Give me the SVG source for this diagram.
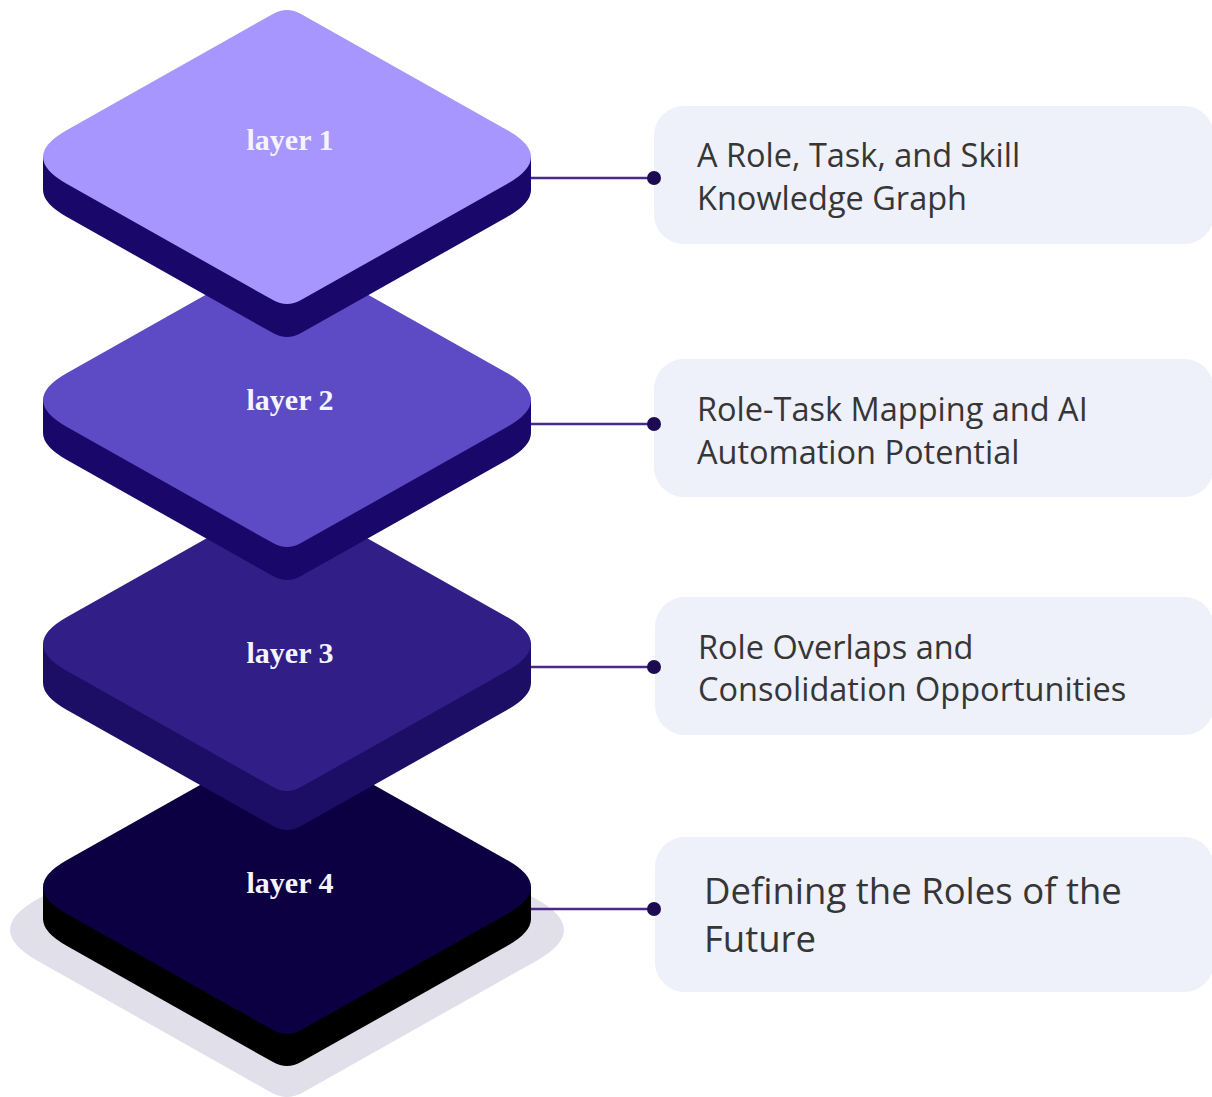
<svg xmlns="http://www.w3.org/2000/svg" xmlns:xlink="http://www.w3.org/1999/xlink" width="1212" height="1097" viewBox="0 0 1212 1097">
  <style>
    .label { font-family: "Liberation Serif", "DejaVu Serif", serif; font-weight: bold; font-size: 30px; fill: #f6f4ff; text-anchor: middle; }
    .card { fill: #eef0fa; }
    .card-text { font-family: "Open Sans", "Noto Sans", sans-serif; font-size: 32.5px; fill: #363636; }
    .card-text.big { font-size: 36.5px; }
    .link { stroke: #4a2a88; stroke-width: 2.5; fill: none; }
    .dot { fill: #1d0b52; }
  </style>
  <defs>
    <!-- rounded isometric slab top, centred on the origin -->
    <path id="face" d="M -220,-27 Q -268,0 -220,27 L -14,143.1 Q 0,151 14,143.1 L 220,27 Q 268,0 220,-27 L 14,-143.1 Q 0,-151 -14,-143.1 Z"/>
  </defs>

  <!-- ground shadow under the stack -->
  <use xlink:href="#face" href="#face" transform="translate(287,930) scale(1.135)" fill="#e1e0ea"/>

  <!-- description cards -->
  <g id="card1">
    <rect class="card" x="654" y="106" width="560" height="138" rx="30"/>
    <text class="card-text" x="697" y="167">A Role, Task, and Skill</text>
    <text class="card-text" x="697" y="210">Knowledge Graph</text>
  </g>
  <g id="card2">
    <rect class="card" x="654" y="359" width="560" height="138" rx="30"/>
    <text class="card-text" x="697" y="421">Role-Task Mapping and AI</text>
    <text class="card-text" x="697" y="464">Automation Potential</text>
  </g>
  <g id="card3">
    <rect class="card" x="655" y="597" width="559" height="138" rx="30"/>
    <text class="card-text" x="698" y="659">Role Overlaps and</text>
    <text class="card-text" x="698" y="701">Consolidation Opportunities</text>
  </g>
  <g id="card4">
    <rect class="card" x="655" y="837" width="559" height="155" rx="30"/>
    <text class="card-text big" x="704" y="904">Defining the Roles of the</text>
    <text class="card-text big" x="704" y="952">Future</text>
  </g>

  <!-- connectors -->
  <g id="connectors">
    <line class="link" x1="520" y1="178" x2="654" y2="178"/>
    <circle class="dot" cx="654" cy="178" r="7"/>
    <line class="link" x1="520" y1="424" x2="654" y2="424"/>
    <circle class="dot" cx="654" cy="424" r="7"/>
    <line class="link" x1="520" y1="667" x2="654" y2="667"/>
    <circle class="dot" cx="654" cy="667" r="7"/>
    <line class="link" x1="520" y1="909" x2="654" y2="909"/>
    <circle class="dot" cx="654" cy="909" r="7"/>
  </g>

  <!-- slabs, bottom to top -->
  <g id="layer4" transform="translate(287,887)">
    <g fill="#000000">
      <use xlink:href="#face" href="#face" y="32"/>
      <rect x="-244" y="0" width="488" height="32"/>
    </g>
    <use xlink:href="#face" href="#face" fill="#0c0042"/>
    <text class="label" x="3" y="6">layer 4</text>
  </g>

  <g id="layer3" transform="translate(287,644)">
    <g fill="#1c0d65">
      <use xlink:href="#face" href="#face" y="39"/>
      <rect x="-244" y="0" width="488" height="39"/>
    </g>
    <use xlink:href="#face" href="#face" fill="#311f87"/>
    <text class="label" x="3" y="19">layer 3</text>
  </g>

  <g id="layer2" transform="translate(287,400)">
    <g fill="#19086a">
      <use xlink:href="#face" href="#face" y="33"/>
      <rect x="-244" y="0" width="488" height="33"/>
    </g>
    <use xlink:href="#face" href="#face" fill="#5d4ac5"/>
    <text class="label" x="3" y="10">layer 2</text>
  </g>

  <g id="layer1" transform="translate(287,157)">
    <g fill="#19086a">
      <use xlink:href="#face" href="#face" y="33"/>
      <rect x="-244" y="0" width="488" height="33"/>
    </g>
    <use xlink:href="#face" href="#face" fill="#a696fd"/>
    <text class="label" x="3" y="-7">layer 1</text>
  </g>
</svg>
